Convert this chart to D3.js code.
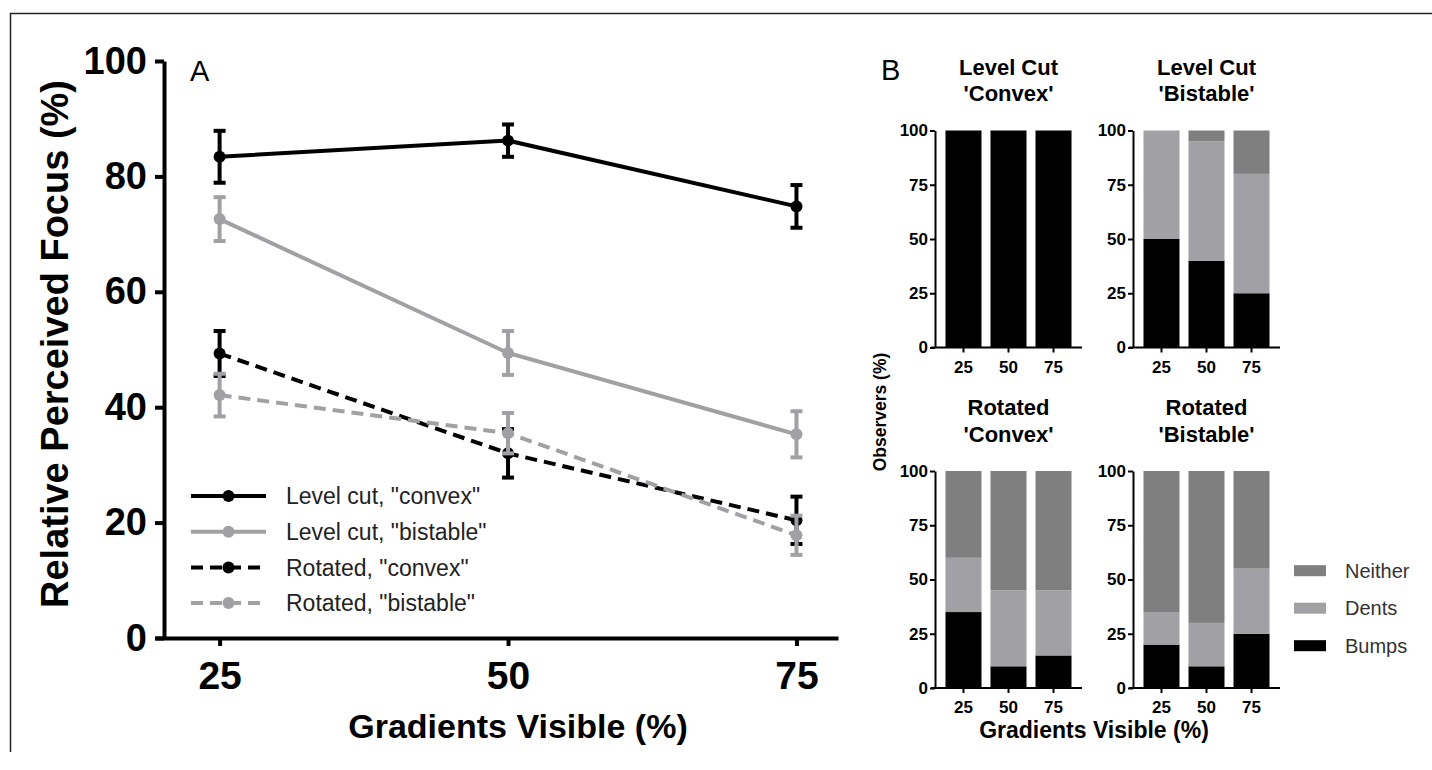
<!DOCTYPE html>
<html>
<head>
<meta charset="utf-8">
<script src="https://cdn.jsdelivr.net/npm/d3@7"></script>
<style>
    body { margin: 0; background: #fff; }
    text { font-family: "Liberation Sans", Arial, sans-serif; }
</style>
</head>
<body>
<div id="chart"></div>
<script>
// Panel A: relative perceived focus
const gradients = [25, 50, 75];
const yTicksA = [0, 20, 40, 60, 80, 100];
const seriesNames = ['Level cut, "convex"', 'Level cut, "bistable"', 'Rotated, "convex"', 'Rotated, "bistable"'];
const levelConvexMean = [83.4, 86.2, 74.8];
const levelConvexErr = [4.5, 2.8, 3.7];
const levelBistableMean = [72.6, 49.4, 35.3];
const levelBistableErr = [3.8, 3.8, 4.0];
const rotatedConvexMean = [49.3, 32.0, 20.4];
const rotatedConvexErr = [3.9, 4.2, 4.1];
const rotatedBistableMean = [42.1, 35.5, 17.8];
const rotatedBistableErr = [3.7, 3.5, 3.4];

// Panel B: observers (%) stacked bars
const barCategories = [25, 50, 75];
const yTicksB = [0, 25, 50, 75, 100];
const responseKeys = ["Bumps", "Dents", "Neither"];
const lcConvexBumps = [100, 100, 100];
const lcConvexDents = [0, 0, 0];
const lcConvexNeither = [0, 0, 0];
const lcBistableBumps = [50, 40, 25];
const lcBistableDents = [50, 55, 55];
const lcBistableNeither = [0, 5, 20];
const rotConvexBumps = [35, 10, 15];
const rotConvexDents = [25, 35, 30];
const rotConvexNeither = [40, 55, 55];
const rotBistableBumps = [20, 10, 25];
const rotBistableDents = [15, 20, 30];
const rotBistableNeither = [65, 70, 45];

const black = "#000000";
const grey = "#a1a1a5";
const darkGrey = "#7f7f7f";

const svg = d3.select("#chart")
    .append("svg")
    .attr("width", 1432)
    .attr("height", 770);

// outer frame (top + left)
svg.append("path")
    .attr("d", "M10.5,752V13.5H1432")
    .attr("fill", "none")
    .attr("stroke", "#222")
    .attr("stroke-width", 1.5);

function styleAxis(g, width, fontSize, bold) {
    g.select(".domain").attr("stroke", black).attr("stroke-width", width);
    g.selectAll(".tick line").attr("stroke", black).attr("stroke-width", width);
    g.selectAll(".tick text")
        .attr("fill", black)
        .style("font-family", '"Liberation Sans", Arial, sans-serif')
        .style("font-size", fontSize + "px")
        .style("font-weight", bold ? "bold" : "normal");
}

function drawPanelA() {
    const x = d3.scaleLinear().domain([19.4, 78.6]).range([155, 838]);
    const y = d3.scaleLinear().domain([0, 100]).range([638, 61]);

    const g = svg.append("g");

    const gx = g.append("g")
        .attr("transform", "translate(0,638)")
        .call(d3.axisBottom(x).tickValues(gradients).tickSize(8).tickSizeOuter(0).tickPadding(15));
    styleAxis(gx, 4, 39, true);

    const gy = g.append("g")
        .attr("transform", "translate(164,0)")
        .call(d3.axisLeft(y).tickValues(yTicksA).tickSize(9).tickSizeOuter(0).tickPadding(8));
    styleAxis(gy, 4, 38, true);

    g.append("text")
        .attr("x", 518).attr("y", 738)
        .attr("text-anchor", "middle")
        .style("font-size", "34px").style("font-weight", "bold")
        .text("Gradients Visible (%)");

    g.append("text")
        .attr("transform", "translate(68,344) rotate(-90)")
        .attr("text-anchor", "middle")
        .style("font-size", "38px").style("font-weight", "bold")
        .text("Relative Perceived Focus (%)");

    g.append("text")
        .attr("x", 190).attr("y", 81)
        .style("font-size", "29px")
        .text("A");

    const series = [
        { name: seriesNames[0], mean: levelConvexMean, err: levelConvexErr, color: black, dash: null },
        { name: seriesNames[1], mean: levelBistableMean, err: levelBistableErr, color: grey, dash: null },
        { name: seriesNames[2], mean: rotatedConvexMean, err: rotatedConvexErr, color: black, dash: "12,7" },
        { name: seriesNames[3], mean: rotatedBistableMean, err: rotatedBistableErr, color: grey, dash: "12,7" }
    ];

    const valueline = d3.line()
        .x((d, i) => x(gradients[i]))
        .y(d => y(d));

    series.forEach(s => {
        const sg = g.append("g");

        sg.append("path")
            .datum(s.mean)
            .attr("d", valueline)
            .attr("fill", "none")
            .attr("stroke", s.color)
            .attr("stroke-width", 4)
            .attr("stroke-dasharray", s.dash);

        const pts = s.mean.map((m, i) => ({ x: gradients[i], m: m, e: s.err[i] }));

        sg.selectAll("line.bar")
            .data(pts)
            .enter().append("line")
            .attr("x1", d => x(d.x)).attr("x2", d => x(d.x))
            .attr("y1", d => y(d.m - d.e)).attr("y2", d => y(d.m + d.e))
            .attr("stroke", s.color).attr("stroke-width", 4);

        ["lo", "hi"].forEach(side => {
            sg.selectAll("line.cap-" + side)
                .data(pts)
                .enter().append("line")
                .attr("x1", d => x(d.x) - 6).attr("x2", d => x(d.x) + 6)
                .attr("y1", d => y(side === "lo" ? d.m - d.e : d.m + d.e))
                .attr("y2", d => y(side === "lo" ? d.m - d.e : d.m + d.e))
                .attr("stroke", s.color).attr("stroke-width", 4);
        });

        sg.selectAll("circle")
            .data(pts)
            .enter().append("circle")
            .attr("cx", d => x(d.x))
            .attr("cy", d => y(d.m))
            .attr("r", 6)
            .attr("fill", s.color);
    });

    // legend
    const legend = g.append("g");
    series.forEach((s, i) => {
        const ly = 496 + i * 35.7;
        legend.append("line")
            .attr("x1", 191).attr("x2", 266)
            .attr("y1", ly).attr("y2", ly)
            .attr("stroke", s.color).attr("stroke-width", 4)
            .attr("stroke-dasharray", s.dash);
        legend.append("circle")
            .attr("cx", 228.5).attr("cy", ly).attr("r", 6)
            .attr("fill", s.color);
        legend.append("text")
            .attr("x", 286).attr("y", ly)
            .attr("dy", "0.36em")
            .attr("fill", "#222")
            .style("font-size", "23px")
            .text(s.name);
    });
}

function drawStacked(axisX, zeroY, titleLines, bumps, dents, neither) {
    const x = d3.scaleBand()
        .domain(barCategories)
        .range([axisX, axisX + 147])
        .paddingInner(0.2)
        .paddingOuter(0.233);
    const y = d3.scaleLinear().domain([0, 100]).range([zeroY, zeroY - 217]);
    const color = d3.scaleOrdinal().domain(responseKeys).range([black, grey, darkGrey]);

    const rows = barCategories.map((c, i) => ({ cat: c, Bumps: bumps[i], Dents: dents[i], Neither: neither[i] }));
    const stacked = d3.stack().keys(responseKeys)(rows);

    const g = svg.append("g");

    g.selectAll("g.layer")
        .data(stacked)
        .enter().append("g")
        .attr("fill", d => color(d.key))
        .selectAll("rect")
        .data(d => d)
        .enter().append("rect")
        .attr("x", d => x(d.data.cat))
        .attr("width", x.bandwidth())
        .attr("y", d => y(d[1]))
        .attr("height", d => y(d[0]) - y(d[1]));

    const gx = g.append("g")
        .attr("transform", `translate(0,${zeroY})`)
        .call(d3.axisBottom(x).tickSize(5).tickSizeOuter(0).tickPadding(8));
    gx.select(".domain").attr("d", `M${axisX - 4},0H${axisX + 147}`);
    styleAxis(gx, 2, 17, true);

    const gy = g.append("g")
        .attr("transform", `translate(${axisX},0)`)
        .call(d3.axisLeft(y).tickValues(yTicksB).tickSize(5).tickSizeOuter(0).tickPadding(2));
    styleAxis(gy, 2, 17, true);

    const cx = axisX + 73.5;
    titleLines.forEach((t, i) => {
        g.append("text")
            .attr("x", cx)
            .attr("y", zeroY - 217 - 56 + i * 26.5)
            .attr("text-anchor", "middle")
            .style("font-size", "22px").style("font-weight", "bold")
            .text(t);
    });
}

function drawPanelB() {
    drawStacked(935, 347.5, ["Level Cut", "'Convex'"], lcConvexBumps, lcConvexDents, lcConvexNeither);
    drawStacked(1133, 347.5, ["Level Cut", "'Bistable'"], lcBistableBumps, lcBistableDents, lcBistableNeither);
    drawStacked(935, 688, ["Rotated", "'Convex'"], rotConvexBumps, rotConvexDents, rotConvexNeither);
    drawStacked(1133, 688, ["Rotated", "'Bistable'"], rotBistableBumps, rotBistableDents, rotBistableNeither);

    svg.append("text")
        .attr("x", 881).attr("y", 80)
        .style("font-size", "29px")
        .text("B");

    svg.append("text")
        .attr("transform", "translate(886,412) rotate(-90)")
        .attr("text-anchor", "middle")
        .style("font-size", "17.5px").style("font-weight", "bold")
        .text("Observers (%)");

    svg.append("text")
        .attr("x", 1094).attr("y", 738)
        .attr("text-anchor", "middle")
        .style("font-size", "23px").style("font-weight", "bold")
        .text("Gradients Visible (%)");

    // legend, top to bottom: Neither, Dents, Bumps
    const legendKeys = responseKeys.slice().reverse();
    const legendColors = { Bumps: black, Dents: grey, Neither: darkGrey };
    legendKeys.forEach((k, i) => {
        const ly = 570.7 + i * 37.5;
        svg.append("rect")
            .attr("x", 1294).attr("y", ly - 5.5)
            .attr("width", 32).attr("height", 11)
            .attr("fill", legendColors[k]);
        svg.append("text")
            .attr("x", 1345).attr("y", ly)
            .attr("dy", "0.36em")
            .attr("fill", "#333")
            .style("font-size", "20px")
            .text(k);
    });
}

drawPanelA();
drawPanelB();
</script>
</body>
</html>
